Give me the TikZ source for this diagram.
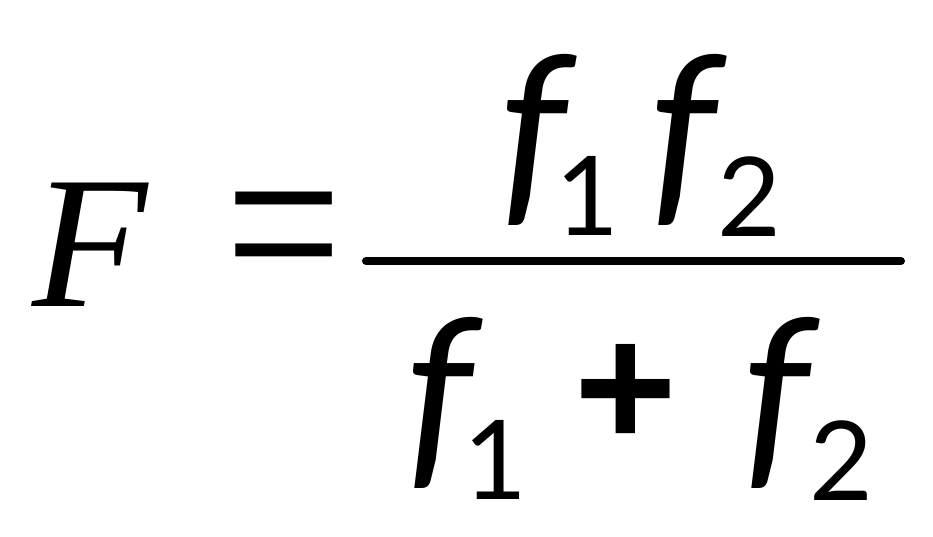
\documentclass[tikz,border=0pt]{standalone}
\usepackage{fontspec}
\usepackage{graphicx}
\usetikzlibrary{positioning}
\setmainfont{Liberation Serif}
\newfontfamily\varfont{Carlito}
\newfontfamily\digfont{Lato}
\newfontfamily\opfont{Liberation Sans}

\begin{document}
\begin{tikzpicture}[x=0.03cm, y=-0.03cm,
			glyph/.style={draw=none, inner sep=0pt, outer sep=0pt, anchor=center},
			bigvar/.style={glyph, font=\varfont\itshape\fontsize{182}{182}\selectfont},
			subidx/.style={glyph, font=\digfont\fontsize{94}{94}\selectfont},
			fracLine/.style={line width=6.8pt, line cap=round, color=black}
			]
			\useasboundingbox (0,0) rectangle (933,536);
			% left hand side
			\node[glyph, font=\itshape\fontsize{161}{161}\selectfont](F) at (90,245) {F};
			\node[glyph, font=\fontsize{177}{177}\selectfont](eq) at (284,251) {\scalebox{1}[1.25]{=}};
			
			% numerator
			\node[bigvar](t1) at (534,140) {f};
			\node[subidx](t1sub) at (587,196) {1};
			\node[bigvar](t2) at (684,140) {f};
			\node[subidx](t2sub) at (749,197) {2};
			
			% denominator
			\node[bigvar](b1) at (440,403) {f};
			\node[subidx](b1sub) at (495,460) {1};
			\node[glyph, font=\opfont\bfseries\fontsize{150}{150}\selectfont](plus) at (626,396) {+};
			\node[bigvar](b2) at (777,403) {f};
			\node[subidx](b2sub) at (841,461) {2};
			
			\coordinate (barL) at (366,261);
			\coordinate (barR) at (901,261);
			\draw [fracLine] (barL) -- (barR);
\end{tikzpicture}
\end{document}
